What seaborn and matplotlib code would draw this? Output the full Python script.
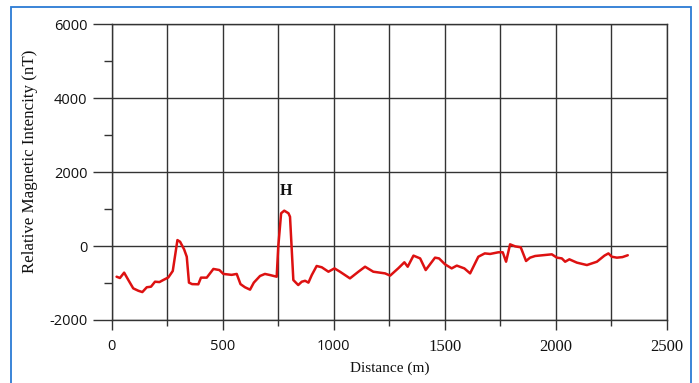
import matplotlib
matplotlib.use("Agg")
import matplotlib.pyplot as plt
import seaborn as sns
import pandas as pd
from matplotlib.ticker import MultipleLocator
from matplotlib.patches import Rectangle

# Magnetic survey profile: distance along line (m) and relative intensity (nT)
distance = [22, 37, 56, 75, 97, 120, 138, 158, 177, 195, 215, 232, 255, 275,
            296, 308, 326, 338, 348, 362, 390, 402, 428, 458, 485, 503, 540,
            563, 580, 600, 623, 640, 668, 690, 713, 743, 750, 763, 777, 796,
            803, 818, 840, 856, 871, 886, 901, 923, 946, 976, 1003, 1028,
            1073, 1111, 1141, 1178, 1231, 1254, 1291, 1318, 1333, 1359, 1389,
            1414, 1456, 1474, 1501, 1531, 1554, 1588, 1614, 1651, 1680, 1704,
            1741, 1761, 1776, 1794, 1817, 1842, 1866, 1884, 1907, 1982, 2005,
            2027, 2042, 2061, 2095, 2140, 2185, 2219, 2237, 2252, 2275, 2300,
            2324]
intensity = [-830, -865, -720, -920, -1145, -1210, -1245, -1115, -1100, -965,
             -975, -920, -850, -675, 160, 115, -90, -290, -990, -1030, -1035,
             -855, -855, -620, -650, -755, -780, -755, -1030, -1115, -1180,
             -990, -810, -755, -785, -830, -20, 885, 955, 885, 790, -920,
             -1055, -965, -940, -990, -785, -540, -575, -695, -605, -695,
             -875, -695, -560, -695, -740, -800, -600, -440, -560, -260,
             -335, -650, -315, -335, -495, -605, -530, -605, -740, -290,
             -200, -215, -170, -170, -425, 45, -10, -35, -405, -315, -270,
             -225, -315, -335, -425, -360, -450, -515, -425, -260, -200,
             -290, -315, -300, -250]
x_ticks = [0, 500, 1000, 1500, 2000, 2500]
y_ticks = [-2000, 0, 2000, 4000, 6000]
anomaly_label = "H"
anomaly_pos = (785, 1500)

sns.set_style("white")
plt.rcParams["font.family"] = ["Liberation Serif", "DejaVu Serif"]
plt.rcParams["axes.unicode_minus"] = False

grid_color = "#333333"

fig = plt.figure(figsize=(6.99, 3.83), dpi=100)
ax = fig.add_axes([0.1598, 0.1645, 0.7942, 0.7728])

df = pd.DataFrame({"Distance": distance, "Intensity": intensity})
sns.lineplot(data=df, x="Distance", y="Intensity", ax=ax, color="#dd1111",
             linewidth=1.8, sort=False, estimator=None, zorder=3)

ax.set_xlim(0, 2500)
ax.set_ylim(-2000, 6000)
ax.set_xticks(x_ticks)
ax.set_yticks(y_ticks)
ax.xaxis.set_minor_locator(MultipleLocator(250))
ax.yaxis.set_minor_locator(MultipleLocator(1000))

ax.xaxis.grid(True, which="both", color=grid_color, linewidth=1.0)
ax.yaxis.grid(True, which="major", color=grid_color, linewidth=1.0)
ax.yaxis.grid(False, which="minor")
ax.set_axisbelow(True)
for s in ax.spines.values():
    s.set_visible(True)
    s.set_color(grid_color)
    s.set_linewidth(1.0)

ax.tick_params(axis="y", which="major", left=True, length=13.5, width=1.0,
               color=grid_color, pad=4, labelsize=10.5)
ax.tick_params(axis="y", which="minor", left=True, length=6, width=1.0,
               color=grid_color)
ax.tick_params(axis="x", which="major", bottom=True, length=7.5, width=1.0,
               color=grid_color, pad=6, labelsize=11)
ax.tick_params(axis="x", which="minor", bottom=True, length=4, width=1.0,
               color=grid_color)

for lbl in ax.get_yticklabels():
    lbl.set_fontfamily(["Open Sans", "DejaVu Sans"])
    lbl.set_color("#111111")
for i, lbl in enumerate(ax.get_xticklabels()):
    if i < 3:
        lbl.set_fontfamily(["Open Sans", "DejaVu Sans"])
        lbl.set_fontsize(10.5)
    else:
        lbl.set_fontfamily(["Liberation Serif", "DejaVu Serif"])
        lbl.set_fontsize(12)
    lbl.set_color("#111111")

ax.set_xlabel("Distance (m)", fontsize=11, labelpad=5, color="#111111")
ax.set_ylabel("Relative Magnetic Intencity (nT)", fontsize=12.2,
              color="#111111")
ax.yaxis.set_label_coords(-0.133, 0.535)

ax.text(anomaly_pos[0], anomaly_pos[1], anomaly_label, ha="center",
        va="center", fontsize=11.5, fontweight="bold", color="#111111")

# Blue frame around the figure
fig.patches.append(Rectangle((11 / 699, -0.05), (690.5 - 11) / 699,
                             1.05 - 6.7 / 383, transform=fig.transFigure,
                             fill=False, edgecolor="#2b7bd4", linewidth=1.3,
                             clip_on=False))

fig.savefig("out.png", dpi=100)
